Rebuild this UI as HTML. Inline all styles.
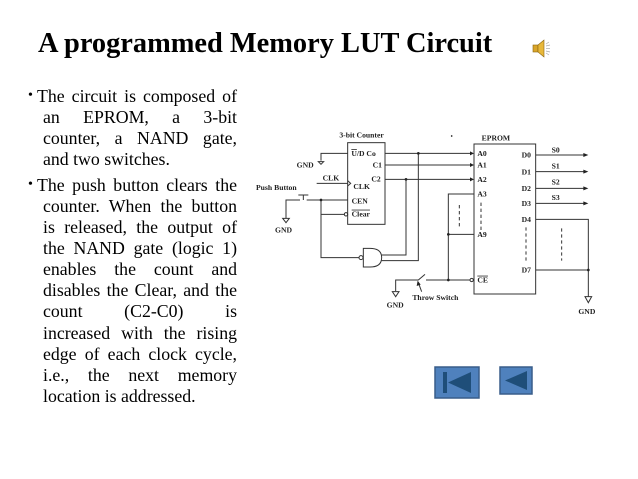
<!DOCTYPE html>
<html><head><meta charset="utf-8"><style>
html,body{margin:0;padding:0;background:#fff;}
body{width:638px;height:479px;position:relative;overflow:hidden;font-family:"Liberation Serif",serif;}
h1{position:absolute;left:38px;top:28px;margin:0;font-size:28.4px;font-weight:bold;white-space:nowrap;color:#000;}
.t{position:absolute;font-size:17.8px;line-height:21.1px;color:#000;}
.t div{text-align:justify;text-align-last:justify;white-space:nowrap;}
.t div.l{text-align-last:left;}
.b{position:absolute;left:28px;font-size:14px;}
</style></head><body>
<h1>A programmed Memory LUT Circuit</h1>
<svg style="position:absolute;left:532px;top:38px" width="20" height="22" viewBox="0 0 20 22">
<rect x="1" y="7" width="5" height="7" fill="#d9a52a" stroke="#8a6410" stroke-width=".6"/>
<polygon points="6,7 12,2 12,19 6,14" fill="#e8b83a" stroke="#8a6410" stroke-width=".6"/>
<g stroke="#aaa" stroke-width=".7"><line x1="14" y1="6" x2="17" y2="4"/><line x1="14" y1="10.5" x2="18" y2="10.5"/><line x1="14" y1="15" x2="17" y2="17"/><line x1="14" y1="8" x2="18" y2="7"/><line x1="14" y1="13" x2="18" y2="14"/></g>
</svg>
<div class="b" style="top:88px">•</div>
<div class="t" style="left:37px;top:86px;width:200px;"><div>The circuit is composed of</div></div>
<div class="t" style="left:43px;top:107px;width:194px;">
<div>an EPROM, a 3-bit</div>
<div>counter, a NAND gate,</div>
<div class="l">and two switches.</div></div>
<div class="b" style="top:177px">•</div>
<div class="t" style="left:37px;top:175px;width:200px;"><div>The push button clears the</div></div>
<div class="t" style="left:43px;top:196px;width:194px;">
<div>counter. When the button</div>
<div>is released, the output of</div>
<div>the NAND gate (logic 1)</div>
<div>enables the count and</div>
<div>disables the Clear, and the</div>
<div>count (C2-C0) is</div>
<div>increased with the rising</div>
<div>edge of each clock cycle,</div>
<div>i.e., the next memory</div>
<div class="l">location is addressed.</div></div>

<svg style="position:absolute;left:250px;top:120px" width="360" height="200" viewBox="0 0 1080 600">
<g font-family="Liberation Serif,serif" font-weight="bold" font-size="23" fill="#222">
<text x="268" y="52">3-bit Counter</text>
<text x="695" y="62">EPROM</text>
<text x="304" y="108"><tspan text-decoration="overline">U</tspan>/D Co</text>
<text x="368" y="143">C1</text>
<text x="364" y="185">C2</text>
<text x="310" y="207">CLK</text>
<text x="218" y="182">CLK</text>
<text x="305" y="250">CEN</text>
<text x="305" y="290" text-decoration="overline">Clear</text>
<text x="140" y="143">GND</text>
<text x="18" y="210">Push Button</text>
<text x="75" y="338">GND</text>
<text x="410" y="563">GND</text>
<text x="487" y="540">Throw Switch</text>
<text x="985" y="582">GND</text>
<text x="682" y="108">A0</text><text x="682" y="143">A1</text><text x="682" y="186">A2</text>
<text x="682" y="230">A3</text><text x="682" y="351">A9</text>
<text x="682" y="488" text-decoration="overline">CE</text>
<text x="815" y="113">D0</text><text x="815" y="163">D1</text><text x="815" y="213">D2</text>
<text x="815" y="258">D3</text><text x="815" y="306">D4</text><text x="815" y="458">D7</text>
<text x="905" y="97">S0</text><text x="905" y="145">S1</text><text x="905" y="193">S2</text><text x="905" y="240">S3</text>
</g>
<g stroke="#333" stroke-width="3" fill="none">
<rect x="293" y="68" width="112" height="245"/>
<rect x="672" y="72" width="185" height="450"/>
<polyline points="293,100 213,100 213,122"/>
<line x1="200" y1="190" x2="293" y2="190"/>
<polyline points="293,182 302,190 293,198"/>
<polyline points="108,295 108,240 150,240"/>
<line x1="160" y1="225" x2="160" y2="240"/><line x1="145" y1="225" x2="175" y2="225"/>
<line x1="170" y1="240" x2="293" y2="240"/>
<polyline points="213,240 213,413 327,413"/>
<line x1="213" y1="283" x2="283" y2="283"/>
<circle cx="288" cy="283" r="5"/>
<circle cx="333" cy="413" r="6"/>
<path d="M340,385 L360,385 Q395,385 395,413 Q395,441 360,441 L340,441 Z"/>
<polyline points="395,405 468,405 468,178"/>
<polyline points="395,422 505,422 505,100"/>
<line x1="405" y1="100" x2="662" y2="100"/>
<line x1="405" y1="135" x2="662" y2="135"/>
<line x1="405" y1="178" x2="662" y2="178"/>
<polyline points="672,222 595,222 595,480"/>
<line x1="595" y1="343" x2="672" y2="343"/>
<polyline points="437,513 437,480 505,480 525,463"/>
<line x1="528" y1="480" x2="660" y2="480"/>
<circle cx="665" cy="480" r="5"/>
<line x1="515" y1="515" x2="505" y2="488"/>
<line x1="857" y1="105" x2="1005" y2="105"/>
<line x1="857" y1="155" x2="1005" y2="155"/>
<line x1="857" y1="205" x2="1005" y2="205"/>
<line x1="857" y1="250" x2="1005" y2="250"/>
<polyline points="857,298 1015,298 1015,530"/>
<line x1="857" y1="450" x2="1015" y2="450"/>
<polygon points="205,125 221,125 213,133"/>
<polygon points="98,295 118,295 108,308"/>
<polygon points="427,515 447,515 437,530"/>
<polygon points="1005,530 1025,530 1015,548"/>
</g>
<g fill="#222">
<circle cx="505" cy="100" r="4"/><circle cx="468" cy="178" r="4"/>
<circle cx="213" cy="240" r="4"/><circle cx="595" cy="343" r="4"/>
<circle cx="595" cy="480" r="4"/><circle cx="1015" cy="450" r="4"/>
<circle cx="605" cy="48" r="2.5"/>
<polygon points="672,100 660,94 660,106"/><polygon points="672,135 660,129 660,141"/><polygon points="672,178 660,172 660,184"/>
<polygon points="1015,105 1000,99 1000,111"/><polygon points="1015,155 1000,149 1000,161"/>
<polygon points="1015,205 1000,199 1000,211"/><polygon points="1015,250 1000,244 1000,256"/>
<polygon points="503,482 500,498 512,494"/>
</g>
<g stroke="#333" stroke-width="3" stroke-dasharray="10,8">
<line x1="628" y1="255" x2="628" y2="320"/>
<line x1="693" y1="248" x2="693" y2="330"/>
<line x1="828" y1="322" x2="828" y2="425"/>
<line x1="935" y1="325" x2="935" y2="422"/>
</g>
</svg>

<svg style="position:absolute;left:434px;top:366px" width="100" height="34" viewBox="0 0 100 34">
<rect x="1" y="1" width="44" height="31" fill="#4f81bd" stroke="#385d8a" stroke-width="1.5"/>
<rect x="9" y="6" width="4" height="21" fill="#1f4e79"/>
<polygon points="14,16.5 37,6 37,27" fill="#1f4e79"/>
<rect x="66" y="1" width="32" height="27" fill="#4f81bd" stroke="#385d8a" stroke-width="1.5"/>
<polygon points="71,14.5 93,5 93,24" fill="#1f4e79"/>
</svg>
</body></html>
